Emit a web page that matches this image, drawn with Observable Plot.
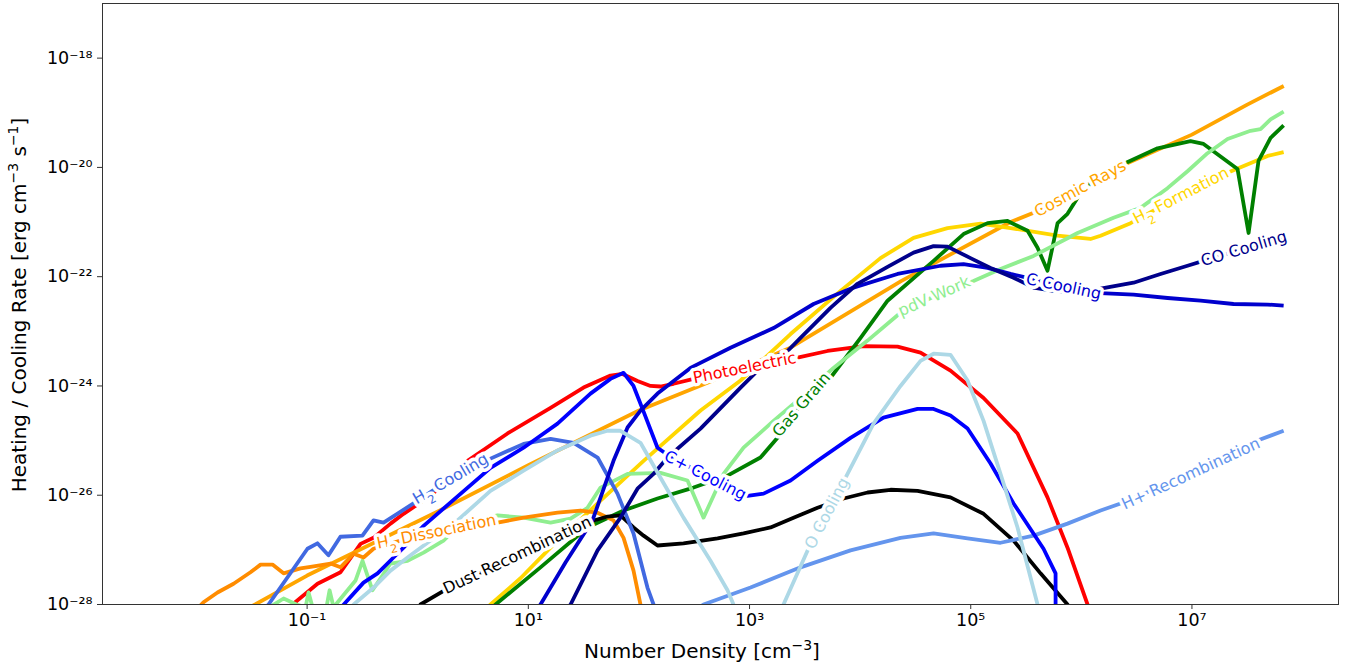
<!DOCTYPE html>
<html>
<head>
<meta charset="utf-8">
<script src="https://cdn.jsdelivr.net/npm/d3@7"></script>
<script src="https://cdn.jsdelivr.net/npm/@observablehq/plot@0.6"></script>
<style>
  body { margin: 0; background: #fff; }
  svg { display: block; }
</style>
</head>
<body>
<div id="chart"></div>
<script>
// Each series: [log10(number density / cm^-3), log10(rate / erg cm^-3 s^-1)]
const photoelectric = [[-1.35,-28.4],[-1.132,-28],[-0.906,-27.62],[-0.698,-27.41],[-0.517,-26.89],[-0.4,-26.78],[-0.246,-26.52],[-0.128,-26.34],[0.116,-26.01],[0.451,-25.37],[0.812,-24.87],[1.201,-24.4],[1.499,-24.03],[1.743,-23.81],[1.852,-23.78],[1.987,-23.91],[2.105,-24.0],[2.195,-24.01],[2.313,-23.96],[2.494,-23.87],[2.828,-23.72],[3.434,-23.48],[3.705,-23.36],[4.031,-23.27],[4.338,-23.28],[4.546,-23.39],[4.817,-23.72],[5.116,-24.22],[5.423,-24.87],[5.694,-26.04],[5.875,-26.96],[6.056,-28.0],[6.13,-28.7]];
const cosmicRays = [[-2.34,-28.9],[-1.47,-28.0],[-1.0,-27.47],[0.2,-26.28],[1.0,-25.45],[2.0,-24.45],[2.67,-23.9],[3.37,-23.3],[4.37,-22.08],[5.36,-21.0],[5.63,-20.78],[6.42,-19.92],[7.0,-19.4],[7.5,-18.85],[7.83,-18.51]];
const h2Formation = [[0.45,-28.4],[0.658,-28.0],[0.929,-27.52],[1.201,-26.96],[1.653,-26.1],[2.042,-25.37],[2.557,-24.45],[2.919,-23.9],[3.371,-23.05],[3.823,-22.26],[4.184,-21.66],[4.483,-21.29],[4.79,-21.11],[5.089,-21.03],[5.36,-21.11],[5.785,-21.25],[6.083,-21.31],[6.174,-21.25],[6.445,-21.02],[6.897,-20.52],[7.322,-20.1],[7.684,-19.79],[7.829,-19.72]];
const gasGrain = [[0.5,-28.35],[0.704,-28.0],[1.11,-27.32],[1.535,-26.59],[1.861,-26.28],[2.168,-26.06],[2.494,-25.86],[2.801,-25.64],[3.099,-25.31],[3.253,-24.95],[3.461,-24.36],[3.732,-23.85],[4.004,-23.12],[4.248,-22.44],[4.664,-21.71],[4.935,-21.22],[5.152,-21.02],[5.333,-20.98],[5.514,-21.16],[5.604,-21.47],[5.694,-21.89],[5.785,-21.02],[5.875,-20.85],[6.02,-20.38],[6.4,-19.92],[6.689,-19.65],[6.987,-19.52],[7.105,-19.57],[7.412,-20.03],[7.512,-21.2],[7.602,-19.88],[7.711,-19.46],[7.829,-19.23]];
const pdvWork = [[-1.5,-28.3],[-1.331,-28.04],[-1.213,-27.89],[-1.096,-28.0],[-1.014,-28.05],[-0.987,-27.78],[-0.951,-28.05],[-0.825,-28.05],[-0.797,-27.74],[-0.761,-28.05],[-0.562,-27.56],[-0.499,-27.2],[-0.409,-27.74],[-0.246,-27.25],[-0.092,-27.2],[0.053,-27.05],[0.233,-26.83],[0.387,-26.52],[0.722,-26.37],[0.957,-26.41],[1.201,-26.5],[1.382,-26.43],[1.535,-26.23],[1.653,-25.86],[1.897,-25.61],[2.195,-25.59],[2.439,-25.73],[2.584,-26.41],[2.765,-25.61],[2.946,-25.13],[3.217,-24.64],[3.461,-24.22],[3.759,-23.67],[4.067,-23.17],[4.365,-22.66],[4.681,-22.35],[5.025,-22.08],[5.269,-21.86],[5.568,-21.62],[5.966,-21.2],[6.291,-20.92],[6.535,-20.74],[6.779,-20.38],[6.96,-20.07],[7.141,-19.74],[7.322,-19.48],[7.53,-19.33],[7.62,-19.3],[7.711,-19.12],[7.829,-18.98]];
const h2Dissociation = [[-2.05,-28.2],[-1.937,-27.96],[-1.81,-27.78],[-1.665,-27.62],[-1.512,-27.41],[-1.421,-27.27],[-1.313,-27.27],[-1.213,-27.43],[-1.06,-27.34],[-0.969,-27.31],[-0.788,-27.25],[-0.698,-27.32],[-0.58,-27.07],[-0.49,-27.14],[-0.4,-26.98],[-0.156,-26.83],[0.206,-26.65],[0.722,-26.5],[0.957,-26.41],[1.264,-26.32],[1.472,-26.28],[1.626,-26.32],[1.77,-26.46],[1.861,-26.78],[1.951,-27.38],[2.014,-28.0],[2.06,-28.7]];
const dustRecombination = [[-0.156,-28.66],[0.025,-28.0],[0.269,-27.71],[0.929,-27.07],[1.562,-26.48],[1.716,-26.39],[1.833,-26.37],[1.951,-26.59],[2.042,-26.74],[2.168,-26.92],[2.403,-26.88],[2.711,-26.79],[2.946,-26.7],[3.19,-26.59],[3.398,-26.41],[3.615,-26.23],[3.85,-26.06],[4.067,-25.95],[4.275,-25.9],[4.519,-25.92],[4.817,-26.04],[5.116,-26.34],[5.387,-26.83],[5.631,-27.43],[5.875,-28.0],[5.99,-28.38]];
const hPlusRecombination = [[2.376,-28.29],[2.584,-28.0],[3.009,-27.69],[3.461,-27.32],[3.913,-27.01],[4.365,-26.78],[4.664,-26.7],[4.971,-26.79],[5.269,-26.87],[5.568,-26.74],[5.875,-26.52],[6.174,-26.28],[6.355,-26.15],[6.988,-25.61],[7.593,-25.0],[7.829,-24.82]];
const h2Cooling = [[-1.6,-28.5],[-1.349,-28.0],[-0.997,-26.98],[-0.907,-26.88],[-0.807,-27.1],[-0.699,-26.76],[-0.5,-26.74],[-0.4,-26.46],[-0.309,-26.5],[-0.038,-26.15],[0.297,-25.7],[0.658,-25.33],[0.957,-25.06],[1.201,-24.97],[1.409,-25.04],[1.626,-25.31],[1.806,-25.97],[1.951,-26.7],[2.077,-27.69],[2.132,-28.0],[2.15,-28.7]];
const cPlusCooling = [[-0.85,-28.4],[-0.669,-28.0],[-0.49,-27.6],[-0.363,-27.43],[-0.219,-27.14],[-0.128,-26.96],[0.053,-26.56],[0.658,-25.5],[0.957,-25.13],[1.264,-24.69],[1.562,-24.14],[1.743,-23.87],[1.861,-23.76],[1.951,-24.0],[2.042,-24.47],[2.168,-25.13],[2.258,-25.26],[2.602,-25.64],[2.982,-26.01],[3.127,-25.97],[3.371,-25.73],[3.615,-25.37],[3.913,-24.95],[4.211,-24.58],[4.519,-24.42],[4.664,-24.42],[4.817,-24.54],[4.971,-24.78],[5.179,-25.42],[5.387,-26.15],[5.658,-26.98],[5.767,-27.43],[5.768,-30]];
const cCooling = [[0.95,-28.35],[1.11,-28.0],[1.336,-27.23],[1.58,-26.46],[1.77,-25.37],[1.897,-24.76],[2.014,-24.45],[2.168,-24.14],[2.466,-23.67],[2.828,-23.3],[3.217,-22.94],[3.579,-22.5],[3.94,-22.2],[4.338,-21.95],[4.727,-21.8],[4.935,-21.77],[5.152,-21.84],[5.36,-21.95],[5.514,-22.02],[5.812,-22.17],[6.174,-22.3],[6.472,-22.33],[6.78,-22.39],[7.078,-22.44],[7.376,-22.5],[7.684,-22.51],[7.829,-22.53]];
const coCooling = [[1.25,-28.3],[1.382,-28.0],[1.626,-27.01],[1.833,-26.41],[1.987,-25.88],[2.132,-25.61],[2.258,-25.31],[2.557,-24.78],[2.919,-24.03],[3.163,-23.54],[3.344,-23.36],[3.461,-23.12],[3.732,-22.57],[3.976,-22.13],[4.248,-21.82],[4.483,-21.56],[4.664,-21.44],[4.79,-21.45],[4.998,-21.66],[5.179,-21.84],[5.387,-22.02],[5.568,-22.2],[5.749,-22.26],[5.875,-22.28],[6.174,-22.22],[6.472,-22.11],[6.716,-21.95],[6.96,-21.8],[7.168,-21.67],[7.467,-21.49],[7.829,-21.27]];
const oCooling = [[-0.75,-28.35],[-0.579,-28.0],[-0.399,-27.69],[-0.246,-27.38],[-0.065,-27.1],[0.116,-26.83],[0.36,-26.46],[0.658,-25.92],[0.957,-25.55],[1.264,-25.18],[1.562,-24.91],[1.716,-24.82],[1.833,-24.82],[2.014,-25.04],[2.195,-25.68],[2.403,-26.41],[2.647,-27.2],[2.801,-27.74],[2.855,-28.0],[3.08,-29.0],[3.307,-28.0],[3.525,-27.01],[3.886,-25.61],[4.121,-24.69],[4.365,-24.0],[4.546,-23.54],[4.664,-23.41],[4.817,-23.43],[4.971,-23.9],[5.116,-24.64],[5.269,-25.61],[5.423,-26.59],[5.604,-28.0],[5.68,-28.7]];

const seriesNames = ["Photoelectric","Cosmic Rays","H₂ Formation","Gas Grain","pdV Work","H₂ Dissociation","Dust Recombination","H+ Recombination","H₂ Cooling","C+ Cooling","C Cooling","CO Cooling","O Cooling"];
const seriesData = [photoelectric, cosmicRays, h2Formation, gasGrain, pdvWork, h2Dissociation, dustRecombination, hPlusRecombination, h2Cooling, cPlusCooling, cCooling, coCooling, oCooling];
// log10 number density at which each inline label sits
const labelAt = [2.955, 5.99, 6.90, 3.47, 4.67, 0.17, 0.90, 6.99, 0.297, 2.60, 5.84, 7.47, 3.70];
const xTicks = [-1, 1, 3, 5, 7];
const yTicks = [-28, -26, -24, -22, -20, -18];

// styles
const colors = ["red","orange","gold","green","lightgreen","darkorange","black","cornflowerblue","royalblue","blue","mediumblue","darkblue","lightblue"];

const W = 1352, H = 670, mL = 102, mR = 14, mT = 3, mB = 66;
const xDom = [-2.85, 8.325], yDom = [-28, -17];
const kx = (W - mL - mR) / (xDom[1] - xDom[0]);
const ky = (H - mT - mB) / (yDom[1] - yDom[0]);

function interp(pts, x) {
  for (let i = 0; i < pts.length - 1; i++) {
    const [x0, y0] = pts[i], [x1, y1] = pts[i + 1];
    if (x >= x0 && x <= x1) return x1 === x0 ? y0 : y0 + (y1 - y0) * (x - x0) / (x1 - x0);
  }
  return pts[pts.length - 1][1];
}

const supMap = {"-": "⁻", "0": "⁰", "1": "¹", "2": "²", "3": "³", "4": "⁴", "5": "⁵", "6": "⁶", "7": "⁷", "8": "⁸", "9": "⁹"};
const pow10 = v => "10" + String(Math.round(Math.log10(v))).split("").map(c => supMap[c]).join("");

const labelRows = seriesNames.map((name, i) => {
  const x = labelAt[i];
  const y = interp(seriesData[i], x);
  const h = 0.2;
  const ya = interp(seriesData[i], x - h), yb = interp(seriesData[i], x + h);
  const ang = -Math.atan2((yb - ya) * ky, 2 * h * kx) * 180 / Math.PI;
  return {n: 10 ** x, r: 10 ** y, text: name, color: colors[i], rotate: ang};
});

const chart = Plot.plot({
  width: W, height: H,
  marginLeft: mL, marginRight: mR, marginTop: mT, marginBottom: mB,
  style: {fontFamily: "DejaVu Sans", background: "white", color: "black"},
  x: {type: "log", domain: xDom.map(v => 10 ** v)},
  y: {type: "log", domain: yDom.map(v => 10 ** v)},
  marks: [
    ...seriesData.map((pts, i) => Plot.line(pts, {
      x: d => 10 ** d[0], y: d => 10 ** d[1],
      stroke: colors[i], strokeWidth: 3.8, clip: true, strokeLinejoin: "round", strokeLinecap: "butt"
    })),
    Plot.text(labelRows, {
      x: "n", y: "r", text: "text", fill: "color", rotate: "rotate",
      stroke: "white", strokeWidth: 7, strokeLinejoin: "round",
      fontSize: 16, fontFamily: "DejaVu Sans", textAnchor: "middle",
      className: "inline-labels"
    }),
    Plot.frame({stroke: "#333", strokeWidth: 1}),
    Plot.axisX({ticks: xTicks.map(v => 10 ** v), tickFormat: pow10, tickSize: 5, tickPadding: 4, fontSize: 17.5, label: null, stroke: "#333"}),
    Plot.axisY({ticks: yTicks.map(v => 10 ** v), tickFormat: pow10, tickSize: 5, tickPadding: 5, fontSize: 17.5, label: null, stroke: "#333"})
  ]
});

const svg = d3.select(chart.tagName.toLowerCase() === "svg" ? chart : chart.querySelector("svg"));

// real subscripts for H₂ in the inline labels
svg.selectAll("text").each(function () {
  const t = d3.select(this);
  const s = this.textContent;
  if (this.childElementCount === 0 && s.includes("₂")) {
    const [a, b] = s.split("₂");
    t.text(null);
    t.append("tspan").text(a);
    t.append("tspan").attr("baseline-shift", "sub").attr("font-size", 11.5).text("2");
    t.append("tspan").text(b);
  }
});

// axis titles
const xt = svg.append("text").attr("x", 702).attr("y", 658).attr("text-anchor", "middle")
  .attr("font-family", "DejaVu Sans").attr("font-size", 20).attr("fill", "black");
xt.append("tspan").text("Number Density [cm");
xt.append("tspan").attr("baseline-shift", "super").attr("font-size", 14).text("−3");
xt.append("tspan").text("]");

const yt = svg.append("text").attr("transform", "translate(26,305) rotate(-90)").attr("text-anchor", "middle")
  .attr("font-family", "DejaVu Sans").attr("font-size", 20).attr("fill", "black");
yt.append("tspan").text("Heating / Cooling Rate [erg cm");
yt.append("tspan").attr("baseline-shift", "super").attr("font-size", 14).text("−3");
yt.append("tspan").text(" s");
yt.append("tspan").attr("baseline-shift", "super").attr("font-size", 14).text("−1");
yt.append("tspan").text("]");

document.getElementById("chart").appendChild(chart);
</script>
</body>
</html>
